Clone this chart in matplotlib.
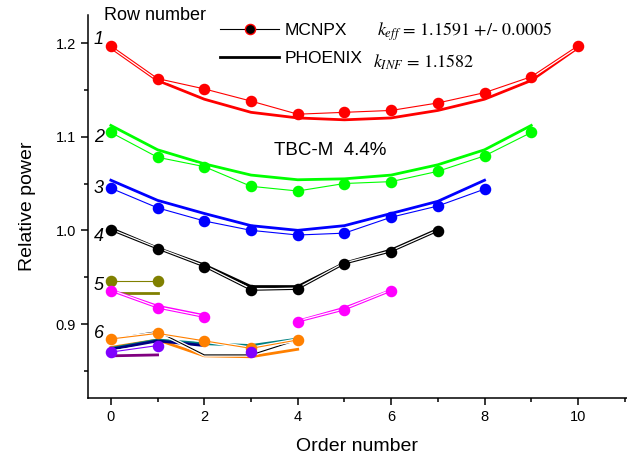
import numpy as np
import matplotlib
matplotlib.use("Agg")
import matplotlib.pyplot as plt
import matplotlib.patheffects as pe
from matplotlib.lines import Line2D

plt.rcParams["font.family"] = ["Liberation Sans", "DejaVu Sans"]
plt.rcParams["mathtext.fontset"] = "stix"

nan = np.nan

# --- data ---
row1_mcnp = [1.197, 1.162, 1.151, 1.138, 1.124, 1.126, 1.128, 1.136, 1.147, 1.164, 1.197]
row1_phx = [1.195, 1.160, 1.140, 1.126, 1.120, 1.118, 1.120, 1.128, 1.140, 1.160, 1.195]
row2_mcnp = [1.1045, 1.078, 1.068, 1.047, 1.042, 1.050, 1.052, 1.063, 1.0795, 1.1045]
row2_phx = [1.112, 1.086, 1.071, 1.059, 1.054, 1.055, 1.059, 1.070, 1.086, 1.112]
row3_mcnp = [1.045, 1.024, 1.010, 1.000, 0.995, 0.997, 1.014, 1.026, 1.044]
row3_phx = [1.0535, 1.032, 1.018, 1.005, 1.000, 1.005, 1.018, 1.031, 1.0535]
row4_mcnp = [1.000, 0.980, 0.961, 0.936, 0.937, 0.964, 0.977, 0.999]
row4_phx = [1.002, 0.981, 0.963, 0.940, 0.940, 0.965, 0.979, 1.001]
row5a_mcnp = [0.946, 0.946]
row5a_phx = [0.933, 0.933]
row5b_mcnp = [0.935, 0.917, 0.907, nan, 0.902, 0.915, 0.935]
row5b_phx = [0.936, 0.919, 0.909, nan, 0.903, 0.917, 0.936]
row6a_mcnp = [0.884, 0.890, 0.882, 0.874, 0.883]
row6a_phx = [0.875, 0.883, 0.866, 0.865, 0.873]
row6b_phx = [0.884, 0.892, 0.867, 0.867, 0.883]
row6c_phx = [0.874, 0.883, 0.879, 0.877, 0.884]
row6d_phx = [0.873, 0.882, 0.877]
row6e_mcnp = [0.870, 0.877, nan, 0.870]
row6e_phx = [0.866, 0.867]

row_labels = ["1", "2", "3", "4", "5", "6"]
row_label_y = [1.204, 1.0987, 1.0446, 0.9936, 0.9412, 0.8895]

fig = plt.figure(figsize=(6.27, 4.61), dpi=100)
ax = fig.add_axes([88 / 627, 1 - 398 / 461, 1 - 88 / 627, (398 - 15) / 461])

white = [pe.withStroke(linewidth=2.6, foreground="white")]


def series(vals, color, kind, line=True, z=2):
    x = np.arange(len(vals))
    y = np.array(vals, dtype=float)
    if kind == "phx":
        ax.plot(x, y, "-", color=color, lw=2.0, zorder=z)
    else:
        if line:
            ax.plot(x[:2] if line == "first" else x, y[:2] if line == "first" else y,
                    "-", color=color, lw=0.8, zorder=z + 1, path_effects=white)
        ax.plot(x, y, "o", color=color, ms=7.3, zorder=z + 2)


series(row1_phx, "#ff0000", "phx")
series(row1_mcnp, "#ff0000", "mcnp")
series(row2_phx, "#00ff00", "phx")
series(row2_mcnp, "#00ff00", "mcnp")
series(row3_phx, "#0000ff", "phx")
series(row3_mcnp, "#0000ff", "mcnp")
series(row4_phx, "black", "phx")
series(row4_mcnp, "black", "mcnp")
series(row5a_phx, "#808000", "phx")
series(row5a_mcnp, "#808000", "mcnp")
series(row5b_phx, "#ff00ff", "phx")
series(row5b_mcnp, "#ff00ff", "mcnp")

series(row6a_phx, "#ff8000", "phx")
ax.plot(np.arange(len(row6b_phx)), row6b_phx, "-", color="black", lw=0.8, zorder=3,
        path_effects=white)
series(row6c_phx, "#008080", "phx")
series(row6d_phx, "#000080", "phx")
series(row6e_phx, "#800080", "phx")
series(row6a_mcnp, "#ff8000", "mcnp")
series(row6e_mcnp, "#8000ff", "mcnp", line="first")

for lab, yy in zip(row_labels, row_label_y):
    ax.text(-0.26, yy, lab, fontsize=13, style="italic", ha="center", va="center")

ax.text(4.7, 1.0855, "TBC-M  4.4%", fontsize=13.5, ha="center", va="center")

ax.set_xlim(-0.49, 11.05)
ax.set_ylim(0.821, 1.2299)
ax.set_xticks(range(0, 11, 2))
ax.set_xticks(range(1, 12, 2), minor=True)
ax.set_yticks([0.9, 1.0, 1.1, 1.2])
ax.set_yticks([0.85, 0.95, 1.05, 1.15], minor=True)
ax.set_yticklabels(["0.9", "1.0", "1.1", "1.2"])
ax.tick_params(which="major", direction="out", length=5, width=1.1, labelsize=10.5)
ax.tick_params(which="minor", direction="out", length=3, width=1.1)
ax.spines["top"].set_visible(False)
ax.spines["right"].set_visible(False)
for s in ("left", "bottom"):
    ax.spines[s].set_linewidth(1.1)

ax.set_xlabel("Order number", fontsize=14, labelpad=10)
ax.set_ylabel("Relative power", fontsize=14, labelpad=14)

fig.text(104 / 627, 1 - 16 / 461, "Row number", fontsize=13, ha="left", va="center")

handles = [
    Line2D([], [], color="black", lw=0.8, marker="o", ms=7.3, mfc="black", mec="red"),
    Line2D([], [], color="black", lw=2.0),
]
ax.legend(handles, ["MCNPX", "PHOENIX"], loc="upper left",
          bbox_to_anchor=(220 / 627, 1 - 23 / 461), bbox_transform=fig.transFigure,
          frameon=False, fontsize=12.5, handlelength=3.4, handletextpad=0.35,
          labelspacing=0.75, borderpad=0, borderaxespad=0)

fig.text(377 / 627, 1 - 32 / 461, r"$k_{eff}$ = 1.1591 +/- 0.0005", fontsize=13,
         family="STIXGeneral", ha="left", va="center")
fig.text(373 / 627, 1 - 62 / 461, r"$k_{INF}$ = 1.1582", fontsize=13,
         family="STIXGeneral", ha="left", va="center")

fig.savefig("out.png", dpi=100)
